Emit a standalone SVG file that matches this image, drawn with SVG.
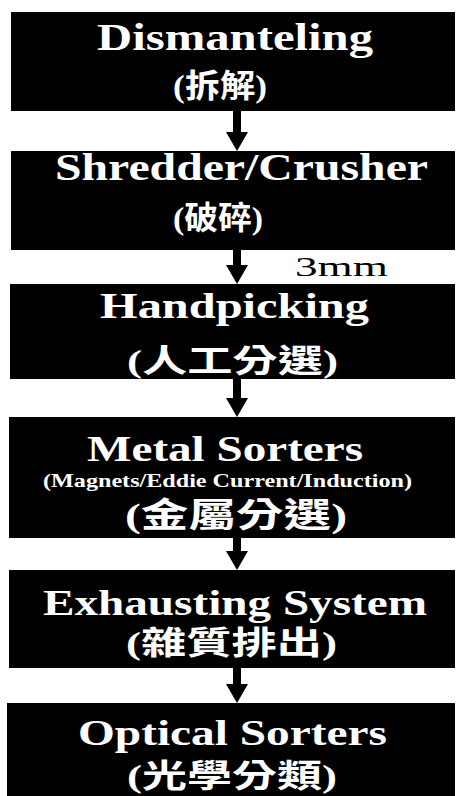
<svg xmlns="http://www.w3.org/2000/svg" width="456" height="796" viewBox="0 0 456 796">
  <style>
    .box { fill: #000000; }
    .title { font-family: "Liberation Serif", "Times New Roman", serif; font-weight: bold; fill: #ffffff; }
    .cjk { font-family: "Liberation Serif", "Noto Sans CJK TC", serif; font-weight: bold; fill: #ffffff; }
    .sub { font-family: "Liberation Serif", "Times New Roman", serif; font-weight: bold; fill: #ffffff; }
    .lbl { font-family: "Liberation Serif", "Times New Roman", serif; fill: #000000; }
    .conn { stroke: #000000; stroke-width: 8; fill: none; }
  </style>
  <defs>
    <marker id="head" markerUnits="userSpaceOnUse" markerWidth="20" markerHeight="22" refX="0" refY="11" orient="auto">
      <path d="M0,0 L19,11 L0,22 z" fill="#000000"/>
    </marker>
  </defs>
  <rect width="456" height="796" fill="#ffffff"/>

  <g id="dismanteling">
    <rect class="box" x="11" y="12" width="444" height="99"/>
    <text class="title" x="97" y="50" font-size="37" textLength="276" lengthAdjust="spacingAndGlyphs">Dismanteling</text>
    <text class="cjk" x="173" y="97" font-size="32" textLength="94" lengthAdjust="spacingAndGlyphs">(拆解)</text>
  </g>

  <g id="shredder">
    <rect class="box" x="11" y="151" width="444" height="99"/>
    <text class="title" x="55" y="180" font-size="37" textLength="373" lengthAdjust="spacingAndGlyphs">Shredder/Crusher</text>
    <text class="cjk" x="173" y="229" font-size="32" textLength="90" lengthAdjust="spacingAndGlyphs">(破碎)</text>
  </g>

  <g id="handpicking">
    <rect class="box" x="10" y="284" width="445" height="95"/>
    <text class="title" x="100" y="318" font-size="35" textLength="269" lengthAdjust="spacingAndGlyphs">Handpicking</text>
    <text class="cjk" x="127" y="372" font-size="32" textLength="211" lengthAdjust="spacingAndGlyphs">(人工分選)</text>
  </g>

  <g id="metal-sorters">
    <rect class="box" x="9" y="417" width="446" height="121"/>
    <text class="title" x="87" y="461" font-size="35" textLength="276" lengthAdjust="spacingAndGlyphs">Metal Sorters</text>
    <text class="sub" x="43" y="487" font-size="19" textLength="369" lengthAdjust="spacingAndGlyphs">(Magnets/Eddie Current/Induction)</text>
    <text class="cjk" x="125" y="527" font-size="34" textLength="222" lengthAdjust="spacingAndGlyphs">(金屬分選)</text>
  </g>

  <g id="exhausting">
    <rect class="box" x="9" y="570" width="446" height="98"/>
    <text class="title" x="43" y="615" font-size="35" textLength="384" lengthAdjust="spacingAndGlyphs">Exhausting System</text>
    <text class="cjk" x="126" y="654" font-size="32" textLength="211" lengthAdjust="spacingAndGlyphs">(雜質排出)</text>
  </g>

  <g id="optical-sorters">
    <rect class="box" x="7" y="703" width="448" height="93"/>
    <text class="title" x="78" y="745" font-size="35" textLength="309" lengthAdjust="spacingAndGlyphs">Optical Sorters</text>
    <text class="cjk" x="127" y="787" font-size="32" textLength="210" lengthAdjust="spacingAndGlyphs">(光學分類)</text>
  </g>

  <g id="connectors">
    <line class="conn" x1="237" y1="111" x2="237" y2="132" marker-end="url(#head)"/>
    <line class="conn" x1="237" y1="250" x2="237" y2="265" marker-end="url(#head)"/>
    <line class="conn" x1="237" y1="379" x2="237" y2="398" marker-end="url(#head)"/>
    <line class="conn" x1="237" y1="538" x2="237" y2="551" marker-end="url(#head)"/>
    <line class="conn" x1="237" y1="668" x2="237" y2="684" marker-end="url(#head)"/>
    <text class="lbl" x="295" y="276" font-size="28" textLength="93" lengthAdjust="spacingAndGlyphs">3mm</text>
  </g>
</svg>
